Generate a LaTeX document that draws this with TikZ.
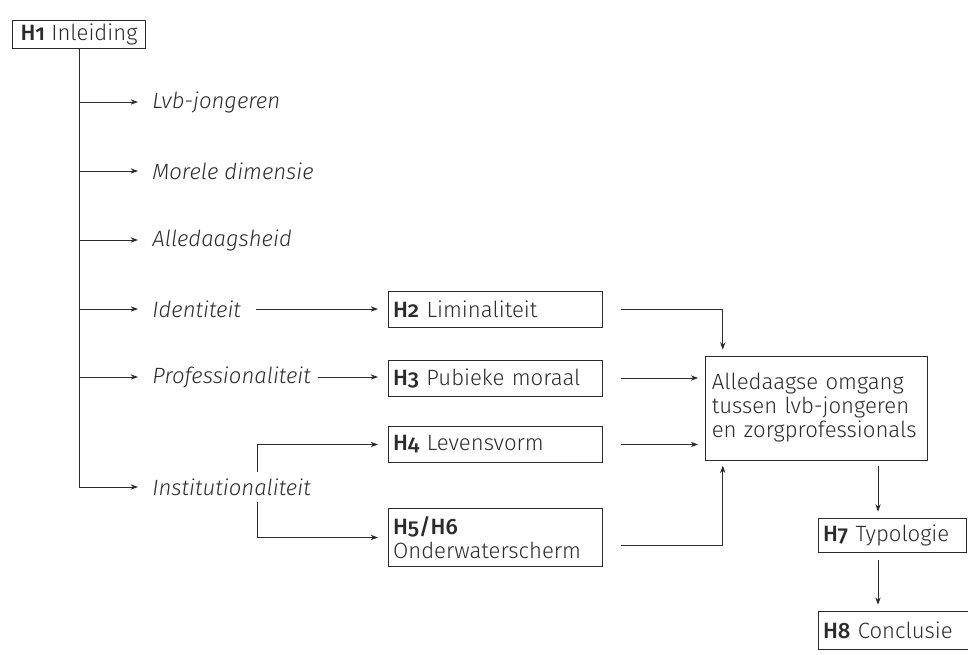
\documentclass[tikz,border=0pt]{standalone}
\usepackage{fontspec}
\setmainfont{Fira Sans Light}[Numbers=OldStyle, BoldFont=Fira Sans Medium, ItalicFont=Fira Sans Light Italic]
\usepackage{tikz}
\usepackage{xcolor}
\usetikzlibrary{arrows.meta}
\definecolor{ink}{HTML}{2B2B2B}

\begin{document}
\begin{tikzpicture}[x=0.75pt,y=-0.75pt,line width=0.6pt,draw=ink,text=ink,
    font=\fontsize{16.6}{18}\selectfont,
    >={Stealth[length=5.5pt,width=4pt]},
    box/.style={draw, inner xsep=3.5pt, inner ysep=2pt, align=left},
    chapbox/.style={box, anchor=west, text width=153.5pt, minimum height=27pt},
    topic/.style={anchor=west, inner sep=0pt, font=\fontsize{16.6}{18}\selectfont\itshape}]
  \useasboundingbox (0,0) rectangle (968,654);

  \node[box, inner xsep=6pt, minimum height=21pt] (h1) at (79,34) {\textbf{H1} Inleiding};
  \coordinate (trunk) at (79,487);
  \draw (h1.south) -- (trunk);

  % onderwerpen langs de stam
  \foreach \y/\alph/\name in {102/a/Lvb-jongeren, 171/b/Morele dimensie, 240/c/Alledaagsheid, 309/d/Identiteit, 377/e/Professionaliteit, 487/f/Institutionaliteit}{
    \coordinate (t\alph) at (79,\y);
    \node[topic] (\alph) at (152,\y) {\name};
    \draw[->, shorten >=10.5pt] (t\alph) -- (\alph.west); }

  % hoofdstukken
  \node[chapbox] (h2) at (388,309) {\textbf{H2} Liminaliteit};
  \node[chapbox] (h3) at (388,378) {\textbf{H3} Pubieke moraal};
  \node[chapbox] (h4) at (388,444.5) {\textbf{H4} Levensvorm};
  \node[chapbox, minimum height=44pt] (h5) at (388,537.5) {\textbf{H5/H6}\\Onderwaterscherm};

  \node[box, text width=157pt, inner xsep=5pt, minimum height=78pt] (big) at (816.5,408) {Alledaagse omgang\\tussen lvb-jongeren\\en zorgprofessionals};
  \node[box, anchor=west, text width=104pt, minimum height=25.5pt] (h7) at (818,535) {\textbf{H7} Typologie};
  \node[box, anchor=west, text width=106pt, minimum height=29pt] (h8) at (818,630.5) {\textbf{H8} Conclusie};

  \draw[->, shorten <=11pt, shorten >=7.5pt] (d.east) -- (d.east -| h2.west);
  \draw[->, shorten <=5pt, shorten >=7.5pt] (e.east) -- (e.east -| h3.west);

  \coordinate (fork) at (257,487);
  \draw[->, shorten >=7.5pt] ([yshift=11pt]fork) |- (h4.west);
  \draw[->, shorten >=7.5pt] ([yshift=-11pt]fork) |- (h5.west);

  \draw[->, shorten <=13.5pt, shorten >=4.5pt] (h2.east) -| ([xshift=13.5pt]big.north west);
  \draw[->, shorten <=13.5pt, shorten >=5pt] (h3.east) -- (h3.east -| big.west);
  \draw[->, shorten <=13.5pt, shorten >=5pt] (h4.east) -- (h4.east -| big.west);
  \draw[->, shorten <=13.5pt, shorten >=4pt] ([yshift=-5.6pt]h5.east) -| ([xshift=13.5pt]big.south west);

  \coordinate (col) at (878,0);
  \draw[->, shorten <=4.5pt, shorten >=4.5pt] (big.south -| col) -- (h7.north -| col);
  \draw[->, shorten <=6pt, shorten >=4.5pt] (h7.south -| col) -- (h8.north -| col);
\end{tikzpicture}
\end{document}
